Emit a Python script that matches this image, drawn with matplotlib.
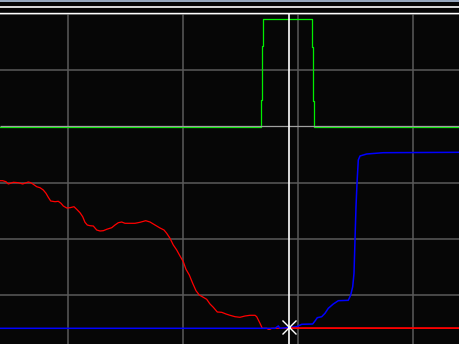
import numpy as np
import matplotlib
matplotlib.use("Agg")
import matplotlib.pyplot as plt

# time axis in samples, levels in counts above the analog baseline
green_t = [0, 261.3, 261.3, 262.3, 262.3, 263.3, 263.3, 312.3, 312.3, 313, 313, 314.3, 314.3, 460]
green_v = [201.3, 201.3, 228.3, 228.3, 282.6, 282.6, 309, 309, 281.3, 281.3, 227.6, 227.6, 201.3, 201.3]

red_t = [0, 2.7, 6, 8.3, 13.3, 18.3, 22.7, 28.3, 30.7, 33.3, 36.7, 40, 43.3, 46, 48.3,
         50.7, 55, 58.3, 61, 63.3, 66.7, 70, 74, 76.7, 80, 82.7, 85, 87.3, 90, 93.3,
         96.7, 100, 103.3, 106.7, 111.7, 115, 118.3, 121.7, 125, 130, 135, 140, 145.7,
         150, 155, 160, 164, 166.7, 170, 173.3, 176.7, 180, 183.3, 186, 189.3, 192.7,
         196, 199.3, 203.3, 206.7, 210, 213.3, 217.3, 221.7, 226, 230, 235, 240, 245,
         250, 255, 256.7, 260, 262.3, 266.7, 268.3, 270, 271.7, 460]
red_v = [147.6, 147.6, 146.6, 144.3, 146, 145.6, 144.3, 146.3, 145.6, 144, 141.6, 140.6,
         138.3, 135, 131, 127.3, 126.6, 127, 125, 122.3, 120.3, 120.6, 121.6, 119, 115.6,
         111.6, 106, 103.3, 102.6, 102.3, 98.3, 97.3, 97.6, 99, 100.6, 103.3, 105.6,
         106.3, 105, 105, 105, 106, 107.6, 106.3, 103.3, 100.3, 98.3, 95, 90, 83.3, 78.3,
         72.3, 66.6, 59, 53.3, 45, 37.6, 33.3, 31, 29, 24.3, 21, 16.3, 16, 14.3, 13, 11.6,
         11, 12.3, 13, 13, 11.6, 5, 0, 0, -1, -1, 0, 0]

blue_t = [0, 275, 278.3, 280, 296.7, 301.7, 312.7, 315, 317.3, 321.7, 325, 328.3, 333.3,
          338.3, 348.3, 350.7, 352.7, 354, 355, 356, 357, 358.3, 360, 363.3, 366.7, 383.3, 460]
blue_v = [0, 0, 2.3, 0, 1.6, 4, 4.3, 7.3, 10.6, 11.6, 15, 20, 24.3, 27.6, 28, 33.3, 41.6,
          55, 88.3, 121.6, 145, 168.3, 172.3, 173.3, 174.3, 175.6, 176]

cursor_t = 288.7
grid_t = [68.3, 183.3, 298.3, 413.3]
grid_v = [33, 89.3, 145.6, 258.2, 314.3]
split_v = 202.6

bg = '#060606'
fig = plt.figure(figsize=(4.6, 3.44), dpi=100, facecolor=bg)
ax = fig.add_axes([0, 0, 1, 1])
ax.set_facecolor(bg)
ax.set_xlim(0, 460)
ax.set_ylim(-15.7, 328.3)
ax.axis('off')

# header strip
ax.axhline(327.8, color='#b4c8e4', lw=1.2)
ax.axhline(321.3, color='white', lw=1.2)
ax.axhline(315.2, color='white', lw=1.0)

# grid
ax.hlines(grid_v, 0, 460, color='#5a5a5a', lw=1.1, zorder=1)
ax.vlines(grid_t, -15.7, 314.3, color='#5a5a5a', lw=1.1, zorder=1)

# traces
ax.plot(green_t, green_v, color='#00ee00', lw=0.9, zorder=2)
ax.hlines(split_v, 0, 460, color='#a0a0a0', lw=0.9, zorder=2.5)
ax.plot(red_t, red_v, color='#ff0000', lw=0.9, zorder=2)
ax.plot(blue_t, blue_v, color='#0000ff', lw=1.1, zorder=3)
seg_t = np.array([cursor_t, red_t[-1]])
ax.plot(seg_t, np.interp(seg_t, red_t, red_v), color='#ff0000', lw=1.1, zorder=4)

# cursor
ax.vlines(cursor_t, -15.7, 314.3, color='white', lw=1.2, zorder=5)
ax.plot([cursor_t], [np.interp(cursor_t, blue_t, blue_v)], marker='x', ms=10,
        mew=1.0, color='white', zorder=6)

fig.savefig('out.png', dpi=100, facecolor=bg)
